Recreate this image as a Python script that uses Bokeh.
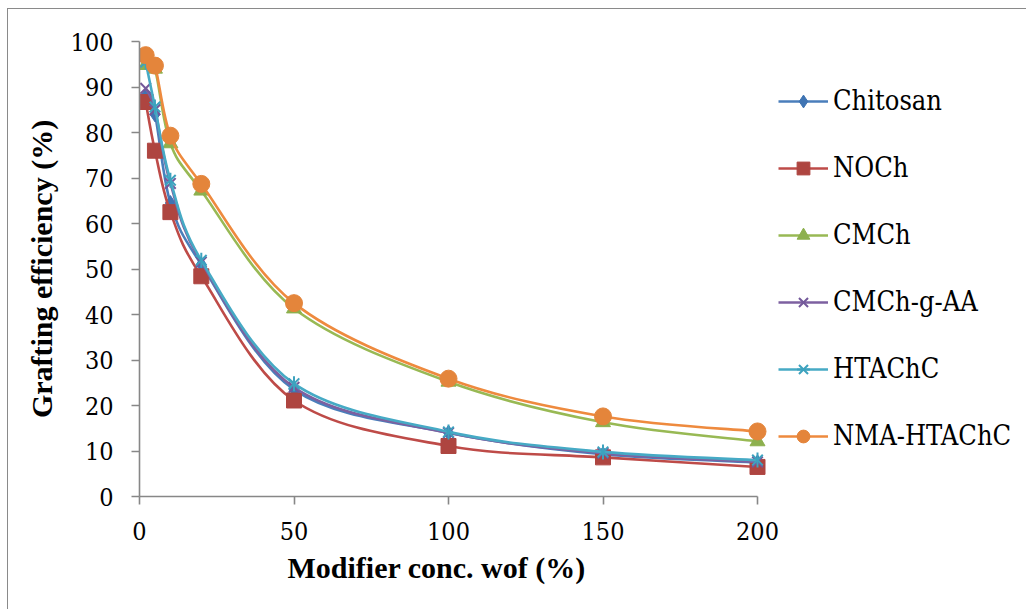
from bokeh.plotting import figure
from bokeh.models import Legend, LegendItem, FixedTicker, Range1d, Title
from bokeh.embed import file_html
from bokeh.resources import INLINE
import numpy as np

# ---- data ----
conc = [2, 5, 10, 20, 50, 100, 150, 200]
chitosan = [88.0, 84.0, 64.5, 51.0, 23.5, 14.0, 9.3, 7.5]
noch = [86.7, 76.0, 62.5, 48.4, 21.1, 11.1, 8.6, 6.5]
cmch = [94.8, 94.0, 77.6, 67.2, 41.3, 25.2, 16.3, 12.1]
cmch_g_aa = [89.7, 85.0, 68.8, 51.5, 24.0, 14.0, 9.5, 7.6]
htachc = [95.5, 85.6, 69.5, 51.9, 24.8, 14.2, 9.8, 8.0]
nma_htachc = [97.0, 94.7, 79.3, 68.7, 42.5, 25.9, 17.6, 14.3]

series_names = ["Chitosan", "NOCh", "CMCh", "CMCh-g-AA", "HTAChC", "NMA-HTAChC"]
series_values = [chitosan, noch, cmch, cmch_g_aa, htachc, nma_htachc]
line_colors = ["#4A7EBB", "#BE4B48", "#98B954", "#7D60A0", "#46AAC5", "#EE8A3E"]
marker_colors = ["#3F74B3", "#AE4540", "#8DB04E", "#73589A", "#3DA2BE", "#E4853B"]
markers = ["diamond", "square", "triangle", "x", "star6", "circle"]
marker_sizes = [15, 15, 15, 15, 15, 17]

x_ticks = [0, 50, 100, 150, 200]
y_ticks = list(range(0, 101, 10))
x_axis_max = 200
x_title = "Modifier conc. wof (%)"
y_title = "Grafting efficiency (%)"

BOLD_FONT = "Liberation Serif"
REG_FONT = "'DejaVu Serif Condensed', 'DejaVu Serif'"

W, H = 1019, 601
LEFT, TOP, BOTTOM = 131, 32, 114
AXIS_PX = 618  # pixel length of the 0..200 axis
frame_w = W - LEFT
x_view_end = x_axis_max * frame_w / AXIS_PX

p = figure(width=W, height=H, output_backend="svg", toolbar_location=None,
           x_range=Range1d(0, x_view_end), y_range=Range1d(0, 100),
           min_border_left=LEFT, min_border_right=0, min_border_top=TOP,
           min_border_bottom=BOTTOM)
p.styles = {"border-left": "1.5px solid #8a8a8a", "border-top": "1.5px solid #8a8a8a",
            "margin-left": "7px", "margin-top": "8px"}
p.outline_line_color = None
p.xgrid.visible = False
p.ygrid.visible = False
p.background_fill_color = "white"
p.border_fill_color = "white"


def bezier_segments(xs, ys):
    xs = np.asarray(xs, float)
    ys = np.asarray(ys, float)
    n = len(xs)
    x0, y0, x1, y1, cx0, cy0, cx1, cy1 = [], [], [], [], [], [], [], []
    for i in range(n - 1):
        im = max(i - 1, 0)
        ip2 = min(i + 2, n - 1)
        x0.append(xs[i]); y0.append(ys[i])
        x1.append(xs[i + 1]); y1.append(ys[i + 1])
        cx0.append(xs[i] + (xs[i + 1] - xs[im]) / 6.0)
        cy0.append(ys[i] + (ys[i + 1] - ys[im]) / 6.0)
        cx1.append(xs[i + 1] - (xs[ip2] - xs[i]) / 6.0)
        cy1.append(ys[i + 1] - (ys[ip2] - ys[i]) / 6.0)
    return dict(x0=x0, y0=y0, x1=x1, y1=y1, cx0=cx0, cy0=cy0, cx1=cx1, cy1=cy1)


items = []
for name, vals, lc, mc, mk, ms in zip(series_names, series_values, line_colors,
                                      marker_colors, markers, marker_sizes):
    seg = bezier_segments(conc, vals)
    p.bezier(line_color=lc, line_width=2.6, **seg)
    # legend proxy line (zero length, so invisible in the plot)
    lr = p.line(x=[conc[0], conc[0]], y=[vals[0], vals[0]], line_color=lc, line_width=2.6)
    if mk == "x":
        sr = p.scatter(x=conc, y=vals, marker="x", size=ms, line_color=mc, line_width=2.0)
        rends = [lr, sr]
    elif mk == "star6":
        sr = p.scatter(x=conc, y=vals, marker="x", size=ms, line_color=mc, line_width=2.0)
        vr = p.scatter(x=conc, y=vals, marker="dash", angle=np.pi / 2, size=ms,
                       line_color=mc, line_width=2.0)
        rends = [lr, sr, vr]
    else:
        sr = p.scatter(x=conc, y=vals, marker=mk, size=ms, line_color=mc,
                       line_width=1, fill_color=mc)
        rends = [lr, sr]
    items.append(LegendItem(label=name, renderers=rends))

legend = Legend(items=items, location=(AXIS_PX + 21, 42), orientation="vertical",
                label_text_font=REG_FONT, label_text_font_size="27px",
                label_text_color="black",
                label_height=37, glyph_height=32, glyph_width=50,
                label_standoff=5, spacing=30, padding=0, margin=0,
                border_line_color=None, background_fill_alpha=0)
p.add_layout(legend, "center")

for ax in (p.xaxis[0], p.yaxis[0]):
    ax.axis_line_color = "#878787"
    ax.axis_line_width = 1.6
    ax.major_tick_line_color = "#878787"
    ax.major_tick_line_width = 1.6
    ax.major_tick_out = 8
    ax.major_tick_in = 0
    ax.minor_tick_out = 0
    ax.minor_tick_in = 0
    ax.major_label_text_font = REG_FONT
    ax.major_label_text_font_size = "25px"
    ax.major_label_text_color = "black"
    ax.axis_label_text_font = BOLD_FONT
    ax.axis_label_text_font_size = "30px"
    ax.axis_label_text_font_style = "bold"
    ax.axis_label_text_color = "black"

p.xaxis.bounds = (0, x_axis_max)
p.xaxis.ticker = FixedTicker(ticks=x_ticks)
p.yaxis.ticker = FixedTicker(ticks=y_ticks)
p.xaxis.major_label_standoff = 17
p.yaxis.major_label_standoff = 18
p.yaxis.axis_label = y_title
p.yaxis.axis_label_standoff = 10

# x-axis title, centred under the 0..200 axis (not under the whole frame)
xt = Title(text=x_title, align="left", offset=148, standoff=13,
           text_font=BOLD_FONT, text_font_size="30px", text_font_style="bold",
           text_color="black")
p.add_layout(xt, "below")

open("out.html", "w").write(file_html(p, INLINE))
